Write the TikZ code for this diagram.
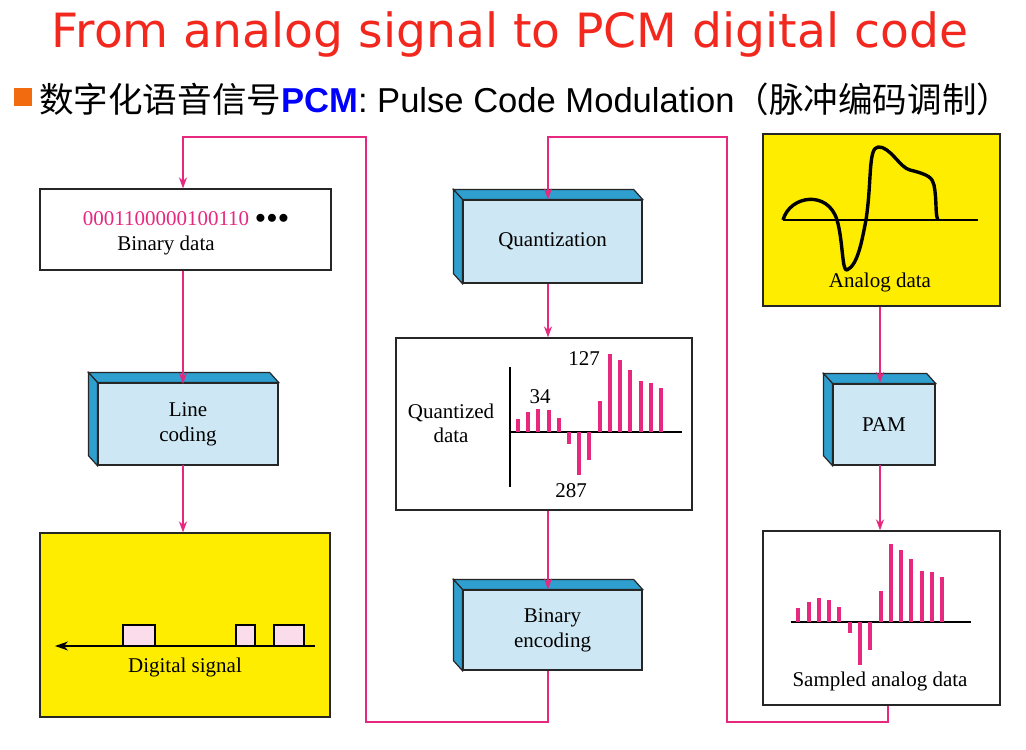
\documentclass[tikz,border=0pt]{standalone}
\usepackage{fontspec}
\setmainfont{Liberation Serif}
\newfontfamily\titlefont{DejaVu Sans}
\newfontfamily\subfont{Liberation Sans}
\newfontfamily\cjk{Noto Sans CJK SC}
\usetikzlibrary{arrows.meta,calc}
\definecolor{pk}{HTML}{E6287F}
\definecolor{lb}{HTML}{CDE8F4}
\definecolor{db}{HTML}{2E9FCF}
\definecolor{yl}{HTML}{FFED00}
\definecolor{pl}{HTML}{FADCEB}
\definecolor{tr}{HTML}{F2281E}
\definecolor{og}{HTML}{F26B0F}
\tikzset{
  conn/.style={pk,line width=2.8pt},
  arr/.style={conn,-{Stealth[length=11pt,width=8pt]}},
  lbl/.style={font=\fontsize{21}{24}\selectfont,align=center,inner sep=0pt},
  frame/.style={draw=black!85,line width=1.2pt,inner sep=0pt},
  cube/.style={draw=black!85,line width=1.2pt,fill=lb,inner sep=0pt,font=\fontsize{21}{25}\selectfont,align=center},
  bar/.style={pk,line width=4pt},
  axis/.style={black,line width=2pt}
}
\newcommand\mkcube[6]{%
  \node[cube,minimum width=#4pt,minimum height=#5pt] (#1) at (#2,#3) {#6};
  \fill[db,draw=black!85,line width=1.2pt] ($(#1.north west)+(-9pt,10pt)$) -- ($(#1.north east)+(-9pt,10pt)$) -- (#1.north east) -- (#1.north west) -- cycle;
  \fill[db,draw=black!85,line width=1.2pt] ($(#1.north west)+(-9pt,10pt)$) -- (#1.north west) -- (#1.south west) -- ($(#1.south west)+(-9pt,10pt)$) -- cycle;
}
\begin{document}
\begin{tikzpicture}[x=1pt,y=-1pt]
\useasboundingbox[fill=white] (0,0) rectangle (1026,750);
% title
\node[tr,inner sep=0pt] (title) at (510,34) {\resizebox{916pt}{!}{\titlefont From analog signal to PCM digital code}};
\fill[og] (14,88) rectangle (32,106);
\node[anchor=west,inner sep=0pt] (sub) at (39,99) {\resizebox{972pt}{!}{\fontsize{30}{34}\selectfont\cjk 数字化语音信号\subfont\textbf{\color{blue}PCM}: Pulse Code Modulation\cjk（脉冲编码调制）}};

% left column
\node[frame,minimum width=291pt,minimum height=81pt] (bin) at (185.5,229.5) {};
\node[lbl,pk] (bits) at (166,219) {0001100000100110};
\node[lbl,anchor=west] (dots) at (bits.east) {\;\textbf{$\bullet\!\bullet\!\bullet$}};
\node[lbl] (bintxt) at (166,245) {Binary data};
\mkcube{line}{188}{424}{180}{82}{Line\\coding}
\node[frame,fill=yl,minimum width=290pt,minimum height=184pt] (dig) at (185,625) {};
\coordinate (dR) at (315,646);
\coordinate (dL) at (55,646);
\draw[line width=1.6pt,-{Stealth[length=13pt,width=9pt,inset=4pt]}] (dR) -- (dL);
\foreach \a/\b in {123/155,236/255,274/304}{
  \draw[fill=pl,line width=2.8pt] (\a,625) rectangle (\b,646);}
\node[lbl] (digtxt) at (185,667) {Digital signal};

% middle column
\mkcube{quant}{552.5}{241.5}{179}{83}{Quantization}
\node[frame,minimum width=296pt,minimum height=172pt] (qd) at (544,424) {};
\draw[axis] (510,367) -- (510,487);
\draw[axis] (510,432) -- (682,432);
\foreach \x/\h in {517.7/13.4,527.7/20,538.3/23.4,548.7/21.7,559/14.4,569/-11.6,579.3/-43.3,589.3/-28.3,599.7/31,610/77.7,620/71.7,630/62.4,640.7/51,651/49.4,661.3/44.4}{
  \draw[bar] (\x,432) -- (\x,432-\h);}
\node[lbl] (qtxt) at (451,423) {Quantized\\data};
\node[lbl] (n34) at (540,397) {34};
\node[lbl] (n127) at (584,359) {127};
\node[lbl] (n287) at (571,491) {287};
\mkcube{enc}{552.5}{630}{179}{80}{Binary\\encoding}

% right column
\node[frame,fill=yl,minimum width=237pt,minimum height=172pt] (ana) at (881.5,220) {};
\draw[axis] (783,220) -- (978,220);
\draw[line width=3.4pt,line join=round] (783,220) .. controls (790,195) and (828,190) .. (837,220)
  .. controls (843,240) and (842,272) .. (847,270)
  .. controls (858,265) and (862,240) .. (866,220)
  .. controls (872,180) and (868,148) .. (878,147)
  .. controls (890,146) and (900,168) .. (910,170)
  .. controls (930,175) and (932,178) .. (934,185)
  .. controls (937,200) and (935,215) .. (938,220);
\node[lbl] (anatxt) at (880,282) {Analog data};
\mkcube{pam}{884}{424.5}{102}{81}{PAM}
\node[frame,minimum width=237pt,minimum height=174pt] (samp) at (881.5,618) {};
\draw[axis] (791,621.7) -- (971,621.7);
\foreach \x/\h in {798.3/13.4,809/20,819/23.4,829.3/21.7,839.3/14.4,850/-11.6,860/-43.3,870/-28.3,880.7/31,891/77.7,901/71.7,911.3/62.4,921.7/51,932/49.4,942/44.4}{
  \draw[bar] (\x,621.7) -- (\x,621.7-\h);}
\node[lbl] (samptxt) at (880,681) {Sampled analog data};

% connectors
\draw[arr] (bin.south -| 183,0) -- (183,384);
\draw[arr] (183,465) -- (dig.north -| 183,0);
\draw[arr] (quant.south -| 548,0) -- (qd.north -| 548,0);
\draw[arr] (qd.south -| 548,0) -- (enc.north -| 548,0);
\draw[arr] (ana.south -| 880,0) -- (880,383);
\draw[arr] (880,465) -- (samp.north -| 880,0);
\draw[arr,line join=miter] (enc.south -| 548,0) -- (548,722) -- (366,722) -- (366,137) -- (183,137) -- (bin.north -| 183,0);
\draw[arr,line join=miter] (samp.south -| 888,0) -- (888,722) -- (727,722) -- (727,137) -- (548,137) -- (quant.north -| 548,0);
\end{tikzpicture}
\end{document}
